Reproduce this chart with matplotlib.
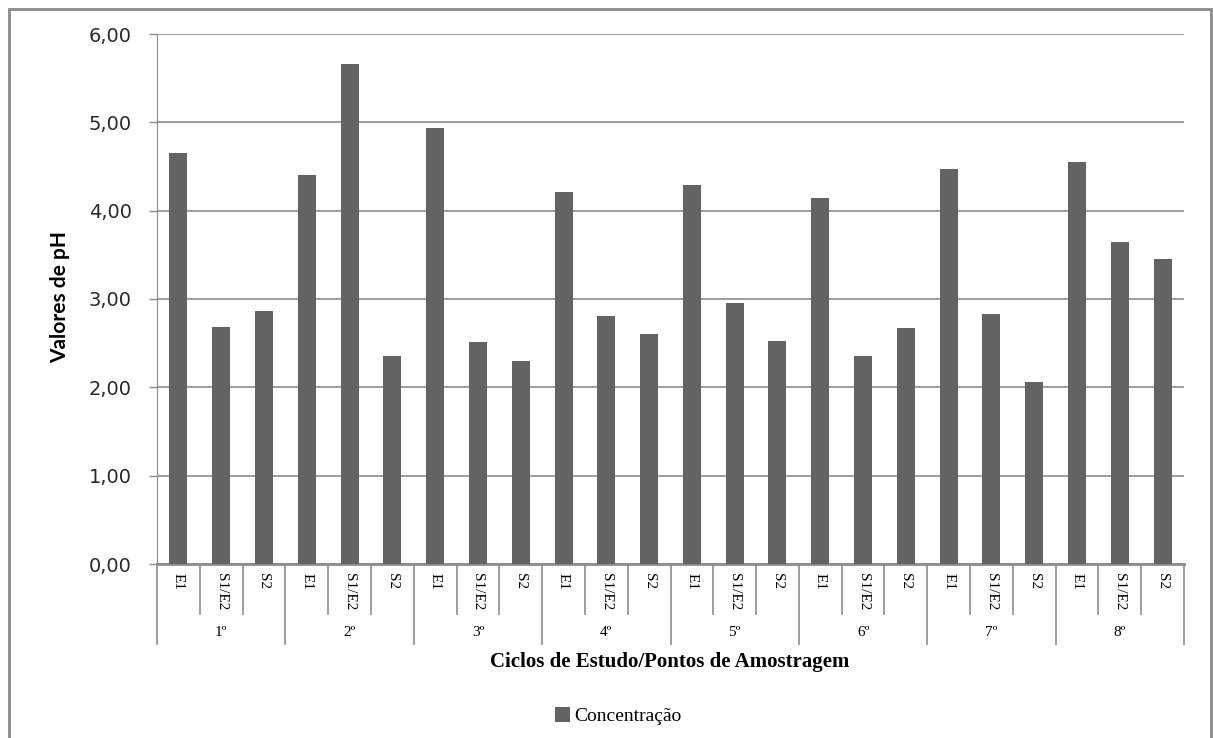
import matplotlib.pyplot as plt
from matplotlib.patches import Rectangle
from matplotlib.transforms import blended_transform_factory

# pH por ciclo de estudo e ponto de amostragem
ciclos = ['1º', '2º', '3º', '4º', '5º', '6º', '7º', '8º']
pontos = ['E1', 'S1/E2', 'S2']
ph_e1 = [4.65, 4.40, 4.94, 4.21, 4.29, 4.14, 4.47, 4.55]
ph_s1e2 = [2.68, 5.66, 2.51, 2.81, 2.95, 2.36, 2.83, 3.64]
ph_s2 = [2.86, 2.35, 2.30, 2.60, 2.53, 2.67, 2.06, 3.45]

valores = []
for a, b, c in zip(ph_e1, ph_s1e2, ph_s2):
    valores += [a, b, c]
n = len(valores)
xs = list(range(n))

W, H = 1213, 738
fig = plt.figure(figsize=(W / 100, H / 100), dpi=100)
ax = fig.add_axes([157 / W, 1 - 564 / H, (1184 - 157) / W, (564 - 34) / H])

cinza = '#8c8c8c'
barras = ax.bar(xs, valores, width=0.42, color='#636363', zorder=3,
                label='Concentração')

ax.set_xlim(-0.5, n - 0.5)
ax.set_ylim(0, 6)
ax.set_yticks([0, 1, 2, 3, 4, 5, 6])
ax.set_yticklabels(['0,00', '1,00', '2,00', '3,00', '4,00', '5,00', '6,00'],
                   fontsize=14, color='#2a2a2a')
ax.tick_params(axis='y', length=6, width=1, color=cinza, pad=12)
ax.set_xticks([])
ax.grid(axis='y', color=cinza, linewidth=1.2, zorder=0)
for lado in ['top', 'right']:
    ax.spines[lado].set_visible(False)
ax.spines['left'].set_color(cinza)
ax.spines['bottom'].set_color(cinza)
ax.spines['bottom'].set_linewidth(2)

# eixo x em dois níveis: pontos e ciclos
tr = blended_transform_factory(ax.transData, ax.transAxes)
alt = 564 - 34
y_sub = -(614 - 564) / alt
y_grp = -(644 - 564) / alt
for i in range(n + 1):
    x = i - 0.5
    fundo = y_grp if i % 3 == 0 else y_sub
    ax.plot([x, x], [0, fundo], transform=tr, color=cinza, lw=1.2,
            clip_on=False)
for i, v in enumerate(valores):
    ax.text(i, -(573 - 564) / alt, pontos[i % 3], transform=tr, rotation=-90,
            ha='center', va='top', fontsize=11, family='Liberation Serif')
for g, c in enumerate(ciclos):
    ax.text(g * 3 + 1, -(632 - 564) / alt, c, transform=tr, ha='center',
            va='center', fontsize=11, family='Liberation Serif')

fig.text((483 + 857) / 2 / W, 1 - 662 / H,
         'Ciclos de Estudo/Pontos de Amostragem', ha='center', va='center',
         fontsize=15, fontweight='bold', family='Liberation Serif')
fig.text(60 / W, 1 - 297 / H, 'Valores de pH', rotation=90, ha='center',
         va='center', fontsize=15, fontweight='bold', family='Lato')

leg = fig.legend(handles=[barras], loc='center', bbox_to_anchor=(618 / W, 1 - 716 / H),
                 frameon=False, handlelength=0.8, handleheight=0.8,
                 handletextpad=0.2, prop={'family': 'Liberation Serif', 'size': 14})

fig.patches.append(Rectangle((9 / W, -0.01), (1211 - 9) / W, 1 - 9 / H + 0.01,
                             transform=fig.transFigure, fill=False,
                             edgecolor='#8a8a8a', linewidth=2))

plt.savefig('out.png', dpi=100)
